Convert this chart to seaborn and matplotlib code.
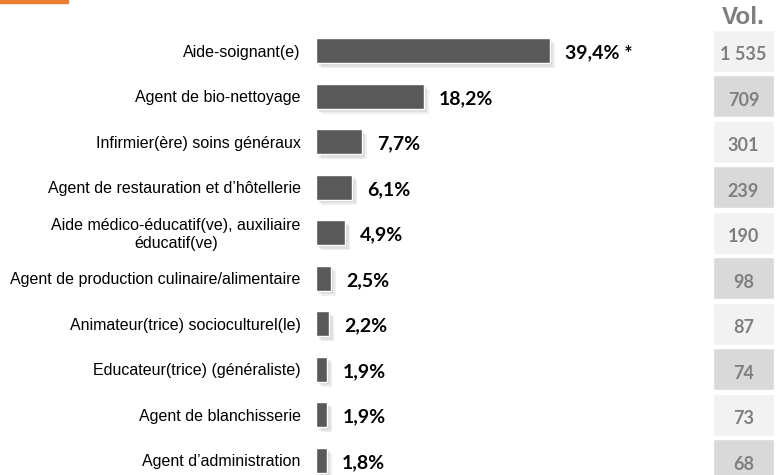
import matplotlib
matplotlib.use("Agg")
import matplotlib.pyplot as plt
import matplotlib.patheffects as pe
from matplotlib.patches import Rectangle
import seaborn as sns
import pandas as pd

categories = [
    "Aide-soignant(e)",
    "Agent de bio-nettoyage",
    "Infirmier(ère) soins généraux",
    "Agent de restauration et d’hôtellerie",
    "Aide médico-éducatif(ve), auxiliaire\néducatif(ve)",
    "Agent de production culinaire/alimentaire",
    "Animateur(trice) socioculturel(le)",
    "Educateur(trice) (généraliste)",
    "Agent de blanchisserie",
    "Agent d’administration",
]
pct = [39.4, 18.2, 7.7, 6.1, 4.9, 2.5, 2.2, 1.9, 1.9, 1.8]
notes = ["*", "", "", "", "", "", "", "", "", ""]
vol = [1535, 709, 301, 239, 190, 98, 87, 74, 73, 68]

df = pd.DataFrame({"metier": categories, "pct": pct})

sns.set_style("white")
plt.rcParams["font.family"] = ["Liberation Sans", "DejaVu Sans"]

fig = plt.figure(figsize=(7.81, 4.75), dpi=100)
W, H = 781, 475
top_px, pitch = 28, 45.5
ax = fig.add_axes([316 / W, 0, 356 / W, (H - top_px) / H])
ymax = (H - top_px) / pitch - 0.5

sns.barplot(data=df, x="pct", y="metier", orient="h", color="#595959",
            width=0.55, saturation=1, ax=ax)
shadow = [pe.SimplePatchShadow(offset=(o, -o), shadow_rgbFace="#808080", alpha=0.12)
          for o in (3.5, 2.5, 1.5)]
for bar in ax.patches:
    bar.set_path_effects(shadow + [pe.Normal()])

for i, (p, n) in enumerate(zip(pct, notes)):
    txt = f"{p:.1f}%".replace(".", ",") + (f" {n}" if n else "")
    ax.annotate(txt, xy=(p, i), xytext=(11, -1.5), textcoords="offset points",
                va="center", ha="left", fontsize=14, fontweight="bold",
                family=["Lato", "DejaVu Sans"], color="black")

# category labels drawn as text so the two-line label can be centred
ax.set_yticks([])
for i, c in enumerate(categories):
    ax.annotate(c, xy=(0, i), xycoords=("axes fraction", "data"),
                xytext=(-11, -1.2), textcoords="offset points",
                ha="right", va="center", multialignment="center",
                fontsize=11.5, color="black")

ax.set_xlim(0, 60)
ax.set_ylim(ymax, -0.5)
ax.set_xlabel("")
ax.set_ylabel("")
ax.set_xticks([])
sns.despine(ax=ax, left=True, bottom=True)

# volume column
ax2 = fig.add_axes([713 / W, 0, 61 / W, (H - top_px) / H])
cell_colors = ["#f2f2f2" if i % 2 == 0 else "#d9d9d9" for i in range(len(vol))]
ax2.barh(range(len(vol)), [1] * len(vol), height=0.93, color=cell_colors, left=0)
for i, v in enumerate(vol):
    ax2.annotate(f"{v:,}".replace(",", " "), xy=(0.5, i), xytext=(0, -3),
                 textcoords="offset points", ha="center", va="center",
                 fontsize=13, fontweight="bold", color="#7f7f7f",
                 family=["Lato", "DejaVu Sans"])
ax2.set_xlim(0, 1)
ax2.set_ylim(ymax, -0.5)
ax2.axis("off")

fig.text(743 / W, 1 - 18 / H, "Vol.", ha="center", va="center", fontsize=17.5,
         fontweight="bold", color="#7f7f7f")

fig.patches.append(Rectangle((0, 1 - 2.5 / H), 68 / W, 2.5 / H, transform=fig.transFigure,
                             color="#ed7d31", figure=fig))

fig.savefig("out.png", dpi=100)
